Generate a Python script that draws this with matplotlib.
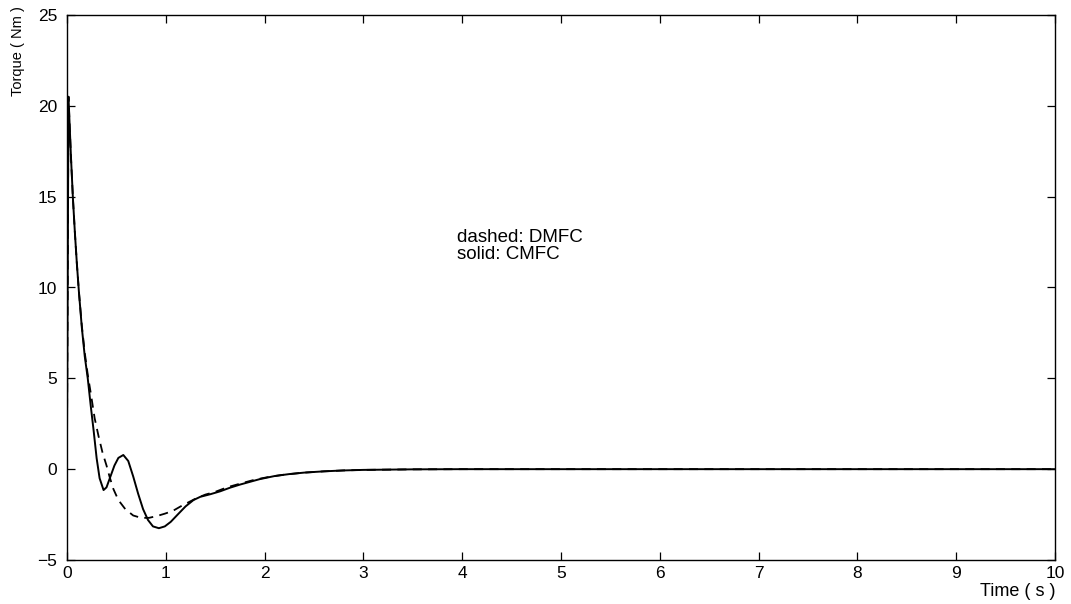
import matplotlib
matplotlib.use("Agg")
import matplotlib.pyplot as plt
from matplotlib import font_manager

# ---- data ----
t_solid = [0.0, 0.015, 0.04, 0.06, 0.08, 0.10, 0.12, 0.15, 0.18, 0.21, 0.24, 0.27,
           0.30, 0.33, 0.37, 0.40, 0.44, 0.48, 0.52, 0.57, 0.62, 0.67, 0.72, 0.77,
           0.82, 0.87, 0.93, 0.99, 1.05, 1.12, 1.20, 1.28, 1.35, 1.45, 1.55, 1.65,
           1.75, 1.85, 1.95, 2.10, 2.25, 2.40, 2.60, 2.80, 3.00, 3.50, 4.0, 5.0,
           6.0, 7.0, 8.0, 9.0, 10.0]
torque_solid = [1.7, 20.5, 17.2, 14.9, 13.0, 11.3, 9.8, 7.8, 6.2, 5.0, 3.5, 2.1,
                0.6, -0.5, -1.15, -1.0, -0.4, 0.2, 0.62, 0.78, 0.45, -0.4, -1.35, -2.2,
                -2.8, -3.15, -3.25, -3.15, -2.9, -2.5, -2.05, -1.7, -1.52, -1.38, -1.22, -1.02,
                -0.85, -0.70, -0.55, -0.38, -0.27, -0.19, -0.12, -0.07, -0.04, -0.01, 0.0, 0.0,
                0.0, 0.0, 0.0, 0.0, 0.0]

t_dashed = [0.0, 0.015, 0.04, 0.06, 0.08, 0.10, 0.12, 0.15, 0.18, 0.21, 0.24, 0.28,
            0.32, 0.36, 0.40, 0.43, 0.47, 0.52, 0.59, 0.67, 0.75, 0.83, 0.91, 0.99,
            1.07, 1.15, 1.22, 1.31, 1.40, 1.50, 1.62, 1.75, 1.90, 2.05, 2.20, 2.40,
            2.60, 2.80, 3.00, 3.50, 4.0, 5.0, 6.0, 7.0, 8.0, 9.0, 10.0]
torque_dashed = [1.7, 20.5, 17.2, 14.9, 13.0, 11.3, 9.8, 7.9, 6.4, 5.2, 4.2, 2.8,
                 1.8, 0.9, 0.2, -0.4, -1.1, -1.7, -2.2, -2.55, -2.68, -2.68, -2.58, -2.45,
                 -2.3, -2.05, -1.85, -1.6, -1.4, -1.25, -1.0, -0.8, -0.58, -0.42, -0.3, -0.19,
                 -0.12, -0.07, -0.04, -0.01, 0.0, 0.0, 0.0, 0.0, 0.0, 0.0, 0.0]

x_ticks = list(range(0, 11))
y_ticks = [-5, 0, 5, 10, 15, 20, 25]

# ---- fonts ----
plt.rcParams['font.family'] = ['Liberation Sans', 'DejaVu Sans']
names = {f.name for f in font_manager.fontManager.ttflist}
narrow = 'Liberation Sans Narrow' if 'Liberation Sans Narrow' in names else 'Liberation Sans'

fig = plt.figure(figsize=(10.71, 6.04), dpi=100)
ax = fig.add_axes([67 / 1071, 1 - 560 / 604, 988 / 1071, 545 / 604])

ax.plot(t_solid, torque_solid, color='black', linewidth=1.4, linestyle='-')
ax.plot(t_dashed, torque_dashed, color='black', linewidth=1.3, linestyle=(0, (5, 3.5)))

ax.set_xlim(0, 10)
ax.set_ylim(-5, 25)
ax.set_xticks(x_ticks)
ax.set_yticks(y_ticks)
ax.tick_params(direction='in', length=6, width=0.9, top=True, right=True,
               labelsize=12.5, colors='black')
ax.tick_params(axis='x', pad=4)
ax.tick_params(axis='y', pad=7)
for s in ax.spines.values():
    s.set_linewidth(1.0)
    s.set_color('black')

ax.text(3.95, 12.75, 'dashed: DMFC', fontsize=13.5, ha='left', va='center')
ax.text(3.95, 11.8, 'solid: CMFC', fontsize=13.5, ha='left', va='center')

ax.set_xlabel('Time ( s )', fontsize=13, ha='right', va='center')
ax.xaxis.set_label_coords(1.0, -0.058)
ax.set_ylabel('Torque ( Nm )', fontsize=10.5, family=[narrow, 'DejaVu Sans'],
              ha='right', va='center')
ax.yaxis.set_label_coords(-0.050, 1.017)

fig.savefig('out.png', dpi=100, facecolor='white')
